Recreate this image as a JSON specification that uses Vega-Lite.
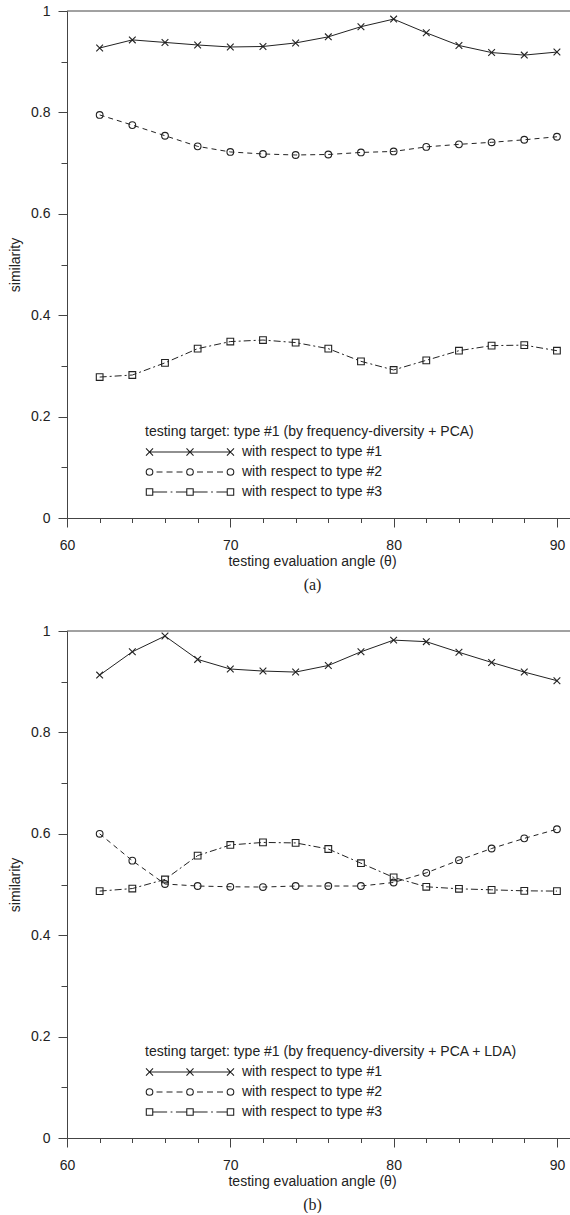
{
  "$schema": "https://vega.github.io/schema/vega-lite/v6.json",
  "padding": {"left": 8, "top": 4, "right": 0, "bottom": 0},
  "background": "white",
  "config": {
    "font": "Liberation Sans",
    "view": {"stroke": null},
    "concat": {"spacing": 31},
    "axis": {
      "labelFont": "Liberation Sans", "labelFontSize": 14, "labelColor": "#222",
      "titleFont": "Liberation Sans", "titleFontSize": 14, "titleFontWeight": "normal", "titleColor": "#222",
      "domainColor": "#444", "tickColor": "#444", "grid": false, "domainWidth": 1, "tickWidth": 1,
      "labelFlush": false, "labelOverlap": false
    },
    "axisX": {"labelPadding": 11, "titlePadding": 2, "titleX": 245},
    "axisY": {"labelPadding": 8, "titlePadding": 8},
    "legend": {
      "orient": "none", "legendX": 78, "legendY": 414, "padding": 0,
      "titleFont": "Liberation Sans", "titleFontSize": 14, "titleFontWeight": "normal", "titleColor": "#222",
      "titlePadding": 3, "titleLimit": 600,
      "labelFont": "Liberation Sans", "labelFontSize": 14, "labelColor": "#222", "labelLimit": 400,
      "labelOffset": 7, "symbolOffset": 0, "symbolSize": 7744, "symbolStrokeWidth": 1.1,
      "symbolFillColor": "transparent", "symbolStrokeColor": "#222", "symbolOpacity": 1,
      "rowPadding": 0, "clipHeight": 20
    },
    "title": {"font": "Liberation Serif", "fontSize": 16, "fontWeight": "normal", "color": "#222"}
  },
  "datasets": {
    "sim": [
      {"panel": "a", "series": "with respect to type #1", "angle": 62, "similarity": 0.927},
      {"panel": "a", "series": "with respect to type #1", "angle": 64, "similarity": 0.943},
      {"panel": "a", "series": "with respect to type #1", "angle": 66, "similarity": 0.938},
      {"panel": "a", "series": "with respect to type #1", "angle": 68, "similarity": 0.933},
      {"panel": "a", "series": "with respect to type #1", "angle": 70, "similarity": 0.929},
      {"panel": "a", "series": "with respect to type #1", "angle": 72, "similarity": 0.930},
      {"panel": "a", "series": "with respect to type #1", "angle": 74, "similarity": 0.937},
      {"panel": "a", "series": "with respect to type #1", "angle": 76, "similarity": 0.949},
      {"panel": "a", "series": "with respect to type #1", "angle": 78, "similarity": 0.969},
      {"panel": "a", "series": "with respect to type #1", "angle": 80, "similarity": 0.984},
      {"panel": "a", "series": "with respect to type #1", "angle": 82, "similarity": 0.957},
      {"panel": "a", "series": "with respect to type #1", "angle": 84, "similarity": 0.932},
      {"panel": "a", "series": "with respect to type #1", "angle": 86, "similarity": 0.918},
      {"panel": "a", "series": "with respect to type #1", "angle": 88, "similarity": 0.913},
      {"panel": "a", "series": "with respect to type #1", "angle": 90, "similarity": 0.919},
      {"panel": "a", "series": "with respect to type #2", "angle": 62, "similarity": 0.795},
      {"panel": "a", "series": "with respect to type #2", "angle": 64, "similarity": 0.775},
      {"panel": "a", "series": "with respect to type #2", "angle": 66, "similarity": 0.754},
      {"panel": "a", "series": "with respect to type #2", "angle": 68, "similarity": 0.733},
      {"panel": "a", "series": "with respect to type #2", "angle": 70, "similarity": 0.722},
      {"panel": "a", "series": "with respect to type #2", "angle": 72, "similarity": 0.718},
      {"panel": "a", "series": "with respect to type #2", "angle": 74, "similarity": 0.716},
      {"panel": "a", "series": "with respect to type #2", "angle": 76, "similarity": 0.717},
      {"panel": "a", "series": "with respect to type #2", "angle": 78, "similarity": 0.721},
      {"panel": "a", "series": "with respect to type #2", "angle": 80, "similarity": 0.723},
      {"panel": "a", "series": "with respect to type #2", "angle": 82, "similarity": 0.732},
      {"panel": "a", "series": "with respect to type #2", "angle": 84, "similarity": 0.737},
      {"panel": "a", "series": "with respect to type #2", "angle": 86, "similarity": 0.741},
      {"panel": "a", "series": "with respect to type #2", "angle": 88, "similarity": 0.746},
      {"panel": "a", "series": "with respect to type #2", "angle": 90, "similarity": 0.752},
      {"panel": "a", "series": "with respect to type #3", "angle": 62, "similarity": 0.278},
      {"panel": "a", "series": "with respect to type #3", "angle": 64, "similarity": 0.282},
      {"panel": "a", "series": "with respect to type #3", "angle": 66, "similarity": 0.306},
      {"panel": "a", "series": "with respect to type #3", "angle": 68, "similarity": 0.334},
      {"panel": "a", "series": "with respect to type #3", "angle": 70, "similarity": 0.348},
      {"panel": "a", "series": "with respect to type #3", "angle": 72, "similarity": 0.351},
      {"panel": "a", "series": "with respect to type #3", "angle": 74, "similarity": 0.346},
      {"panel": "a", "series": "with respect to type #3", "angle": 76, "similarity": 0.334},
      {"panel": "a", "series": "with respect to type #3", "angle": 78, "similarity": 0.309},
      {"panel": "a", "series": "with respect to type #3", "angle": 80, "similarity": 0.292},
      {"panel": "a", "series": "with respect to type #3", "angle": 82, "similarity": 0.311},
      {"panel": "a", "series": "with respect to type #3", "angle": 84, "similarity": 0.330},
      {"panel": "a", "series": "with respect to type #3", "angle": 86, "similarity": 0.340},
      {"panel": "a", "series": "with respect to type #3", "angle": 88, "similarity": 0.341},
      {"panel": "a", "series": "with respect to type #3", "angle": 90, "similarity": 0.330},
      {"panel": "b", "series": "with respect to type #1", "angle": 62, "similarity": 0.913},
      {"panel": "b", "series": "with respect to type #1", "angle": 64, "similarity": 0.959},
      {"panel": "b", "series": "with respect to type #1", "angle": 66, "similarity": 0.990},
      {"panel": "b", "series": "with respect to type #1", "angle": 68, "similarity": 0.944},
      {"panel": "b", "series": "with respect to type #1", "angle": 70, "similarity": 0.925},
      {"panel": "b", "series": "with respect to type #1", "angle": 72, "similarity": 0.921},
      {"panel": "b", "series": "with respect to type #1", "angle": 74, "similarity": 0.919},
      {"panel": "b", "series": "with respect to type #1", "angle": 76, "similarity": 0.932},
      {"panel": "b", "series": "with respect to type #1", "angle": 78, "similarity": 0.959},
      {"panel": "b", "series": "with respect to type #1", "angle": 80, "similarity": 0.982},
      {"panel": "b", "series": "with respect to type #1", "angle": 82, "similarity": 0.979},
      {"panel": "b", "series": "with respect to type #1", "angle": 84, "similarity": 0.958},
      {"panel": "b", "series": "with respect to type #1", "angle": 86, "similarity": 0.938},
      {"panel": "b", "series": "with respect to type #1", "angle": 88, "similarity": 0.919},
      {"panel": "b", "series": "with respect to type #1", "angle": 90, "similarity": 0.902},
      {"panel": "b", "series": "with respect to type #2", "angle": 62, "similarity": 0.600},
      {"panel": "b", "series": "with respect to type #2", "angle": 64, "similarity": 0.547},
      {"panel": "b", "series": "with respect to type #2", "angle": 66, "similarity": 0.501},
      {"panel": "b", "series": "with respect to type #2", "angle": 68, "similarity": 0.497},
      {"panel": "b", "series": "with respect to type #2", "angle": 70, "similarity": 0.4955},
      {"panel": "b", "series": "with respect to type #2", "angle": 72, "similarity": 0.495},
      {"panel": "b", "series": "with respect to type #2", "angle": 74, "similarity": 0.497},
      {"panel": "b", "series": "with respect to type #2", "angle": 76, "similarity": 0.497},
      {"panel": "b", "series": "with respect to type #2", "angle": 78, "similarity": 0.497},
      {"panel": "b", "series": "with respect to type #2", "angle": 80, "similarity": 0.504},
      {"panel": "b", "series": "with respect to type #2", "angle": 82, "similarity": 0.523},
      {"panel": "b", "series": "with respect to type #2", "angle": 84, "similarity": 0.548},
      {"panel": "b", "series": "with respect to type #2", "angle": 86, "similarity": 0.571},
      {"panel": "b", "series": "with respect to type #2", "angle": 88, "similarity": 0.591},
      {"panel": "b", "series": "with respect to type #2", "angle": 90, "similarity": 0.609},
      {"panel": "b", "series": "with respect to type #3", "angle": 62, "similarity": 0.487},
      {"panel": "b", "series": "with respect to type #3", "angle": 64, "similarity": 0.492},
      {"panel": "b", "series": "with respect to type #3", "angle": 66, "similarity": 0.510},
      {"panel": "b", "series": "with respect to type #3", "angle": 68, "similarity": 0.557},
      {"panel": "b", "series": "with respect to type #3", "angle": 70, "similarity": 0.578},
      {"panel": "b", "series": "with respect to type #3", "angle": 72, "similarity": 0.583},
      {"panel": "b", "series": "with respect to type #3", "angle": 74, "similarity": 0.582},
      {"panel": "b", "series": "with respect to type #3", "angle": 76, "similarity": 0.570},
      {"panel": "b", "series": "with respect to type #3", "angle": 78, "similarity": 0.542},
      {"panel": "b", "series": "with respect to type #3", "angle": 80, "similarity": 0.514},
      {"panel": "b", "series": "with respect to type #3", "angle": 82, "similarity": 0.4955},
      {"panel": "b", "series": "with respect to type #3", "angle": 84, "similarity": 0.4915},
      {"panel": "b", "series": "with respect to type #3", "angle": 86, "similarity": 0.4895},
      {"panel": "b", "series": "with respect to type #3", "angle": 88, "similarity": 0.4875},
      {"panel": "b", "series": "with respect to type #3", "angle": 90, "similarity": 0.487}
    ],
    "frame": [{"top": 1}]
  },
  "resolve": {"scale": {"shape": "independent"}, "legend": {"shape": "independent"}},
  "vconcat": [
    {
      "width": 503, "height": 507,
      "title": {"text": "(a)", "orient": "bottom", "dx": -6, "offset": 9},
      "encoding": {
        "x": {"field": "angle", "type": "quantitative", "scale": {"domain": [60, 90.8], "nice": false, "zero": false},
          "axis": {"values": [60,62,64,66,68,70,72,74,76,78,80,82,84,86,88,90], "labelOverlap": false, "labelExpr": "datum.value % 10 === 0 ? datum.label : ''", "tickSize": {"condition": {"test": "datum.value % 10 === 0", "value": 9}, "value": 4.5}, "title": "testing evaluation angle (θ)"}},
        "y": {"field": "similarity", "type": "quantitative", "scale": {"domain": [0, 1], "nice": false},
          "axis": {"values": [0,0.1,0.2,0.3,0.4,0.5,0.6,0.7,0.8,0.9,1], "labelOverlap": false, "labelExpr": "abs(datum.value*5 - round(datum.value*5)) < 0.001 ? format(datum.value, '~g') : ''", "tickSize": {"condition": {"test": "abs(datum.value*5 - round(datum.value*5)) < 0.001", "value": 9}, "value": 6}, "title": "similarity"}}
      },
      "layer": [
        {"data": {"name": "frame"}, "mark": {"type": "rule", "color": "#444", "strokeWidth": 1}, "encoding": {"x": null, "y": {"field": "top", "type": "quantitative"}}},
        {"data": {"name": "sim"}, "transform": [{"filter": "datum.panel === 'a' && datum.series === 'with respect to type #1'"}],
          "mark": {"type": "line", "color": "#222", "strokeWidth": 1}, "encoding": {}},
        {"data": {"name": "sim"}, "transform": [{"filter": "datum.panel === 'a' && datum.series === 'with respect to type #2'"}],
          "mark": {"type": "line", "color": "#222", "strokeWidth": 1, "strokeDash": [5, 4]}, "encoding": {}},
        {"data": {"name": "sim"}, "transform": [{"filter": "datum.panel === 'a' && datum.series === 'with respect to type #3'"}],
          "mark": {"type": "line", "color": "#222", "strokeWidth": 1, "strokeDash": [7, 3, 2, 3]}, "encoding": {}},
        {"data": {"name": "sim"}, "transform": [{"filter": "datum.panel === 'a' && datum.series === 'with respect to type #1'"}],
          "mark": {"type": "point", "shape": "M-1,-1L1,1M-1,1L1,-1", "filled": false, "color": "#222", "strokeWidth": 1.1, "size": 45, "opacity": 1}, "encoding": {}},
        {"data": {"name": "sim"}, "transform": [{"filter": "datum.panel === 'a' && datum.series === 'with respect to type #2'"}],
          "mark": {"type": "point", "shape": "circle", "filled": false, "color": "#222", "strokeWidth": 1.1, "size": 45, "opacity": 1}, "encoding": {}},
        {"data": {"name": "sim"}, "transform": [{"filter": "datum.panel === 'a' && datum.series === 'with respect to type #3'"}],
          "mark": {"type": "point", "shape": "square", "filled": false, "color": "#222", "strokeWidth": 1.1, "size": 45, "opacity": 1}, "encoding": {}},
        {
          "data": {"name": "sim"},
          "transform": [{"filter": "datum.panel === 'a'"}],
          "mark": {"type": "point", "filled": false, "color": "#222", "strokeWidth": 1, "size": 0, "opacity": 1},
          "encoding": {
            "shape": {"field": "series", "type": "nominal",
              "scale": {"domain": ["with respect to type #1", "with respect to type #2", "with respect to type #3"],
                "range": [
                  "M-0.92,0L0.92,0M-1,-0.08L-0.84,0.08M-1,0.08L-0.84,-0.08M-0.08,-0.08L0.08,0.08M-0.08,0.08L0.08,-0.08M0.84,-0.08L1,0.08M0.84,0.08L1,-0.08",
                  "M-0.761,0L-0.625,0M-0.534,0L-0.397,0M-0.306,0L-0.17,0M0.159,0L0.295,0M0.386,0L0.523,0M0.614,0L0.75,0M-0.845,0A0.075,0.075 0 1,1 -0.995,0A0.075,0.075 0 1,1 -0.845,0M0.075,0A0.075,0.075 0 1,1 -0.075,0A0.075,0.075 0 1,1 0.075,0M0.995,0A0.075,0.075 0 1,1 0.845,0A0.075,0.075 0 1,1 0.995,0",
                  "M-0.847,0L-0.52,0M-0.44,0L-0.4,0M-0.32,0L-0.073,0M0.073,0L0.4,0M0.48,0L0.52,0M0.6,0L0.847,0M-0.993,-0.073L-0.847,-0.073L-0.847,0.073L-0.993,0.073ZM-0.073,-0.073L0.073,-0.073L0.073,0.073L-0.073,0.073ZM0.847,-0.073L0.993,-0.073L0.993,0.073L0.847,0.073Z"
                ]},
              "legend": {"title": "testing target: type #1 (by frequency-diversity + PCA)"}
            }
          }
        }
      ]
    },
    {
      "width": 503, "height": 507,
      "title": {"text": "(b)", "orient": "bottom", "dx": -6, "offset": 9},
      "encoding": {
        "x": {"field": "angle", "type": "quantitative", "scale": {"domain": [60, 90.8], "nice": false, "zero": false},
          "axis": {"values": [60,62,64,66,68,70,72,74,76,78,80,82,84,86,88,90], "labelOverlap": false, "labelExpr": "datum.value % 10 === 0 ? datum.label : ''", "tickSize": {"condition": {"test": "datum.value % 10 === 0", "value": 9}, "value": 4.5}, "title": "testing evaluation angle (θ)"}},
        "y": {"field": "similarity", "type": "quantitative", "scale": {"domain": [0, 1], "nice": false},
          "axis": {"values": [0,0.1,0.2,0.3,0.4,0.5,0.6,0.7,0.8,0.9,1], "labelOverlap": false, "labelExpr": "abs(datum.value*5 - round(datum.value*5)) < 0.001 ? format(datum.value, '~g') : ''", "tickSize": {"condition": {"test": "abs(datum.value*5 - round(datum.value*5)) < 0.001", "value": 9}, "value": 6}, "title": "similarity"}}
      },
      "layer": [
        {"data": {"name": "frame"}, "mark": {"type": "rule", "color": "#444", "strokeWidth": 1}, "encoding": {"x": null, "y": {"field": "top", "type": "quantitative"}}},
        {"data": {"name": "sim"}, "transform": [{"filter": "datum.panel === 'b' && datum.series === 'with respect to type #1'"}],
          "mark": {"type": "line", "color": "#222", "strokeWidth": 1}, "encoding": {}},
        {"data": {"name": "sim"}, "transform": [{"filter": "datum.panel === 'b' && datum.series === 'with respect to type #2'"}],
          "mark": {"type": "line", "color": "#222", "strokeWidth": 1, "strokeDash": [5, 4]}, "encoding": {}},
        {"data": {"name": "sim"}, "transform": [{"filter": "datum.panel === 'b' && datum.series === 'with respect to type #3'"}],
          "mark": {"type": "line", "color": "#222", "strokeWidth": 1, "strokeDash": [7, 3, 2, 3]}, "encoding": {}},
        {"data": {"name": "sim"}, "transform": [{"filter": "datum.panel === 'b' && datum.series === 'with respect to type #1'"}],
          "mark": {"type": "point", "shape": "M-1,-1L1,1M-1,1L1,-1", "filled": false, "color": "#222", "strokeWidth": 1.1, "size": 45, "opacity": 1}, "encoding": {}},
        {"data": {"name": "sim"}, "transform": [{"filter": "datum.panel === 'b' && datum.series === 'with respect to type #2'"}],
          "mark": {"type": "point", "shape": "circle", "filled": false, "color": "#222", "strokeWidth": 1.1, "size": 45, "opacity": 1}, "encoding": {}},
        {"data": {"name": "sim"}, "transform": [{"filter": "datum.panel === 'b' && datum.series === 'with respect to type #3'"}],
          "mark": {"type": "point", "shape": "square", "filled": false, "color": "#222", "strokeWidth": 1.1, "size": 45, "opacity": 1}, "encoding": {}},
        {
          "data": {"name": "sim"},
          "transform": [{"filter": "datum.panel === 'b'"}],
          "mark": {"type": "point", "filled": false, "color": "#222", "strokeWidth": 1, "size": 0, "opacity": 1},
          "encoding": {
            "shape": {"field": "series", "type": "nominal",
              "scale": {"domain": ["with respect to type #1", "with respect to type #2", "with respect to type #3"],
                "range": [
                  "M-0.92,0L0.92,0M-1,-0.08L-0.84,0.08M-1,0.08L-0.84,-0.08M-0.08,-0.08L0.08,0.08M-0.08,0.08L0.08,-0.08M0.84,-0.08L1,0.08M0.84,0.08L1,-0.08",
                  "M-0.761,0L-0.625,0M-0.534,0L-0.397,0M-0.306,0L-0.17,0M0.159,0L0.295,0M0.386,0L0.523,0M0.614,0L0.75,0M-0.845,0A0.075,0.075 0 1,1 -0.995,0A0.075,0.075 0 1,1 -0.845,0M0.075,0A0.075,0.075 0 1,1 -0.075,0A0.075,0.075 0 1,1 0.075,0M0.995,0A0.075,0.075 0 1,1 0.845,0A0.075,0.075 0 1,1 0.995,0",
                  "M-0.847,0L-0.52,0M-0.44,0L-0.4,0M-0.32,0L-0.073,0M0.073,0L0.4,0M0.48,0L0.52,0M0.6,0L0.847,0M-0.993,-0.073L-0.847,-0.073L-0.847,0.073L-0.993,0.073ZM-0.073,-0.073L0.073,-0.073L0.073,0.073L-0.073,0.073ZM0.847,-0.073L0.993,-0.073L0.993,0.073L0.847,0.073Z"
                ]},
              "legend": {"title": "testing target: type #1 (by frequency-diversity + PCA + LDA)"}
            }
          }
        }
      ]
    }
  ]
}
